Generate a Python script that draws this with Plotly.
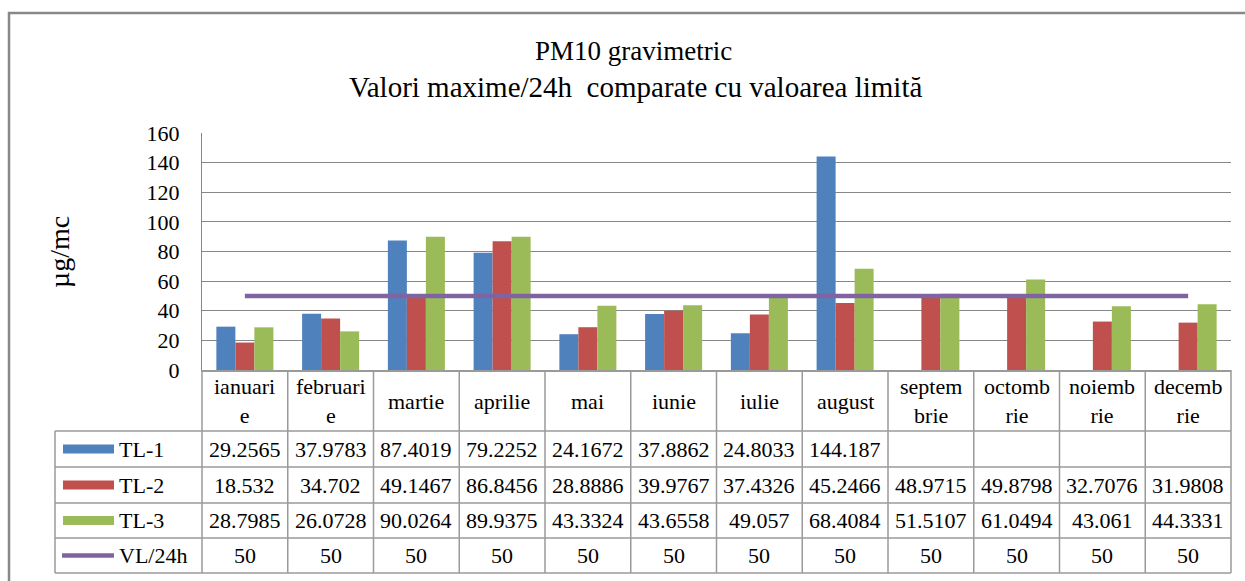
import plotly.graph_objects as go

# ---------------- data ----------------
months = ["ianuarie", "februarie", "martie", "aprilie", "mai", "iunie",
          "iulie", "august", "septembrie", "octombrie", "noiembrie", "decembrie"]
month_labels = ["ianuari<br>e", "februari<br>e", "martie", "aprilie", "mai", "iunie",
                "iulie", "august", "septem<br>brie", "octomb<br>rie", "noiemb<br>rie", "decemb<br>rie"]
tl1 = [29.2565, 37.9783, 87.4019, 79.2252, 24.1672, 37.8862, 24.8033, 144.187,
       None, None, None, None]
tl2 = [18.532, 34.702, 49.1467, 86.8456, 28.8886, 39.9767, 37.4326, 45.2466,
       48.9715, 49.8798, 32.7076, 31.9808]
tl3 = [28.7985, 26.0728, 90.0264, 89.9375, 43.3324, 43.6558, 49.057, 68.4084,
       51.5107, 61.0494, 43.061, 44.3331]
vl24 = [50, 50, 50, 50, 50, 50, 50, 50, 50, 50, 50, 50]
series_names = ["TL-1", "TL-2", "TL-3", "VL/24h"]
y_ticks = [0, 20, 40, 60, 80, 100, 120, 140, 160]
title1 = "PM10 gravimetric"
title2 = "Valori maxime/24h\u00a0 comparate cu valoarea limită"
y_title = "µg/mc"

# ---------------- style / layout ----------------
C_BLUE, C_RED, C_GREEN, C_PURPLE = "#4F81BD", "#C0504D", "#9BBB59", "#8064A2"
GRID = "#878787"
TBL = "#9a9a9a"
FONT = "Liberation Serif"
WIDTH, HEIGHT = 1245, 581
L, R, T, B = 202, 1231, 133, 370
W, H = R - L, B - T


def fx(px):
    return (px - L) / W


def fy(py):
    return (B - py) / H


fig = go.Figure()
for name, vals, col in zip(series_names[:3], [tl1, tl2, tl3], [C_BLUE, C_RED, C_GREEN]):
    fig.add_trace(go.Bar(x=months, y=vals, name=name, marker=dict(color=col, line=dict(width=0))))
fig.add_trace(go.Scatter(x=months, y=vl24, name=series_names[3], mode="lines",
                         line=dict(color=C_PURPLE, width=4.5)))

shapes = []
annotations = []

# outer frame
shapes.append(dict(type="rect", xref="paper", yref="paper", x0=fx(9), x1=fx(1260),
                   y0=fy(600), y1=fy(13), line=dict(color="#888888", width=2.5),
                   fillcolor="rgba(0,0,0,0)", layer="below"))

# title
annotations.append(dict(text=title1, xref="paper", yref="paper", x=fx(633), y=fy(51),
                        showarrow=False, font=dict(family=FONT, size=27, color="black"),
                        xanchor="center", yanchor="middle"))
annotations.append(dict(text=title2, xref="paper", yref="paper", x=fx(635), y=fy(87),
                        showarrow=False, font=dict(family=FONT, size=29, color="black"),
                        xanchor="center", yanchor="middle"))
# y title
annotations.append(dict(text=y_title, xref="paper", yref="paper", x=fx(59), y=fy(252),
                        textangle=-90, showarrow=False,
                        font=dict(family=FONT, size=28, color="black"),
                        xanchor="center", yanchor="middle"))

# ---------------- data table ----------------
n = len(months)
row_lines = [431, 467, 503, 538, 573]
row_centers = [(row_lines[i] + row_lines[i + 1]) / 2 for i in range(4)]
tbl_left = 55

for yl in row_lines:
    shapes.append(dict(type="line", xref="paper", yref="paper", x0=fx(tbl_left), x1=1,
                       y0=fy(yl), y1=fy(yl), line=dict(color=TBL, width=1.5)))
shapes.append(dict(type="line", xref="paper", yref="paper", x0=fx(tbl_left), x1=fx(tbl_left),
                   y0=fy(431), y1=fy(573), line=dict(color=TBL, width=1.5)))
for i in range(n + 1):
    shapes.append(dict(type="line", xref="paper", yref="paper", x0=i / n, x1=i / n,
                       y0=fy(B), y1=fy(573), line=dict(color=TBL, width=1.5)))

for m, lab in zip(months, month_labels):
    annotations.append(dict(text=lab, xref="x", yref="paper", x=m, y=fy(401),
                            showarrow=False, font=dict(family=FONT, size=22, color="black"),
                            xanchor="center", yanchor="middle"))

for r, vals in enumerate([tl1, tl2, tl3, vl24]):
    for m, v in zip(months, vals):
        if v is None:
            continue
        annotations.append(dict(text=f"{v:g}", xref="x", yref="paper", x=m,
                                y=fy(row_centers[r]), showarrow=False,
                                font=dict(family=FONT, size=22, color="black"),
                                xanchor="center", yanchor="middle"))

for r, (name, col) in enumerate(zip(series_names, [C_BLUE, C_RED, C_GREEN, C_PURPLE])):
    yc = row_centers[r]
    if r < 3:
        shapes.append(dict(type="rect", xref="paper", yref="paper", x0=fx(63), x1=fx(114),
                           y0=fy(yc + 4.5), y1=fy(yc - 4.5), fillcolor=col,
                           line=dict(width=0)))
    else:
        shapes.append(dict(type="line", xref="paper", yref="paper", x0=fx(62), x1=fx(114),
                           y0=fy(yc), y1=fy(yc), line=dict(color=col, width=4.5)))
    annotations.append(dict(text=name, xref="paper", yref="paper", x=fx(117), y=fy(yc),
                            showarrow=False, font=dict(family=FONT, size=22, color="black"),
                            xanchor="left", yanchor="middle"))

fig.update_layout(
    width=WIDTH, height=HEIGHT,
    margin=dict(l=L, r=WIDTH - R, t=T, b=HEIGHT - B, pad=0),
    paper_bgcolor="white", plot_bgcolor="white",
    barmode="group", bargap=0.335, bargroupgap=0,
    showlegend=False,
    font=dict(family=FONT, size=22, color="black"),
    shapes=shapes, annotations=annotations,
)
fig.update_xaxes(type="category", range=[-0.5, n - 0.5], showticklabels=False,
                 showline=True, linecolor=TBL, linewidth=1.5, showgrid=False, ticks="")
fig.update_yaxes(range=[0, 160], tickvals=y_ticks, showgrid=True, gridcolor=GRID, gridwidth=1,
                 showline=True, linecolor=GRID, linewidth=1, zeroline=False,
                 ticks="outside", ticklen=17, tickcolor="rgba(0,0,0,0)",
                 tickfont=dict(family=FONT, size=22, color="black"))

fig.write_html("out.html", config={"displayModeBar": False},
               post_script="document.body.style.margin='0';")
